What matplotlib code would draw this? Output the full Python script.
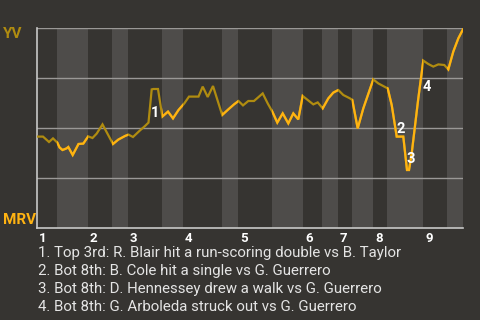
import numpy as np
import matplotlib
matplotlib.use('Agg')
import matplotlib.pyplot as plt
import matplotlib.transforms as mtransforms

plt.rcParams['font.family'] = ['Roboto', 'DejaVu Sans']

# game progress (0..426) and YV win expectancy (%)
progress = [0, 6, 12, 16, 20.3, 22.5, 25.5, 29.5, 31.3, 35.7, 41.5, 46.3, 51.2,
            55.5, 59.7, 65.5, 76, 81.3, 88, 91.5, 96, 103, 108, 111.5, 114.7,
            116.3, 121, 125.3, 131, 136, 141.5, 147.3, 152, 161.5, 165.7, 170.7,
            176, 185.2, 191.3, 197, 201.5, 206, 211.3, 217, 225.7, 230.7, 235.3,
            240.3, 245.7, 251.3, 256.3, 261.3, 265.7, 270.7, 276.3, 280.7, 285.7,
            291.3, 296.3, 301.3, 306.3, 313, 315.3, 320.7, 326.3, 336.3, 341.3,
            350.7, 354.7, 359.7, 366.3, 370, 372, 374.7, 381.3, 386.3, 391.3,
            396.3, 401.3, 407.3, 411.3, 416.3, 421.3, 426]
yv_we = [45.7, 45.7, 43, 44.8, 42.7, 40.3, 39, 39.8, 40.5, 36.5, 42, 42.2, 45.8,
         45, 47.2, 51.8, 42, 44.2, 46, 46.7, 45.5, 48.8, 51, 52.7, 69.3, 69.5,
         69.5, 55.7, 58.2, 54.8, 59, 62.3, 65.7, 65.7, 70.7, 65.5, 71, 56.5,
         59.3, 61.8, 63.5, 61.3, 63.5, 63.5, 67.3, 62.3, 58.2, 52.7, 57.3, 52.3,
         57.3, 54.3, 66, 64, 61.8, 62.8, 59.8, 64.8, 67.7, 69, 66.5, 64.8, 64,
         49.8, 59.8, 74.3, 72.3, 69.8, 61.5, 45.7, 45.7, 29, 29, 37.3, 64.8,
         83.7, 82, 80.7, 81.8, 81.5, 79.3, 88.2, 94.8, 99.3]

# half innings: start of top and bottom of each inning
innings = ['1', '2', '3', '4', '5', '6', '7', '8', '9']
top_start = [0, 51, 91, 146, 201, 266, 301, 336, 386]
bot_start = [20, 75, 125, 185, 235, 285, 315, 350, 410]
game_end = 426

events = ['1. Top 3rd: R. Blair hit a run-scoring double vs B. Taylor',
          '2. Bot 8th: B. Cole hit a single vs G. Guerrero',
          '3. Bot 8th: D. Hennessey drew a walk vs G. Guerrero',
          '4. Bot 8th: G. Arboleda struck out vs G. Guerrero']
event_x = [118.5, 364, 374, 389.5]
event_y = [57.5, 49.5, 34.3, 70.5]

bg = '#363431'
band = '#4e4c4a'
yv_col = '#b08c10'
mrv_col = '#ffb312'
grid_col = '#9a9896'

fig = plt.figure(figsize=(4.8, 3.2), dpi=100, facecolor=bg)
ax = fig.add_axes([37 / 480, 1 - 228 / 320, 426 / 480, 200 / 320])
ax.set_facecolor(bg)
ax.set_xlim(0, game_end)
ax.set_ylim(0, 100)

# bottom halves shaded lighter
ends = top_start[1:] + [game_end]
spans = []
for b, e in zip(bot_start, ends):
    spans.append(ax.axvspan(b, e, color=band, lw=0, zorder=0))

for g in [25, 50, 75, 100]:
    ax.axhline(g, color=grid_col, lw=1, zorder=1)

# line is dark gold in top halves, bright where MRV bats
ax.plot(progress, yv_we, color=yv_col, lw=1.6, zorder=3,
        solid_joinstyle='miter')
for sp in spans:
    ln, = ax.plot(progress, yv_we, color=mrv_col, lw=1.6, zorder=4,
                  solid_joinstyle='miter')
    ln.set_clip_path(sp)

for s in ['top', 'right']:
    ax.spines[s].set_visible(False)
for s in ['left', 'bottom']:
    ax.spines[s].set_color('#c8c8c8')
    ax.spines[s].set_linewidth(1.2)
ax.set_xticks([])
ax.set_yticks([])

trans = mtransforms.blended_transform_factory(ax.transData, ax.transAxes)
for lab, x in zip(innings, top_start):
    ax.text(x + 2, -0.022, lab, transform=trans, ha='left', va='top',
            color='white', fontsize=9.5, fontweight='bold')

for i, (x, y) in enumerate(zip(event_x, event_y)):
    ax.text(x, y, str(i + 1), ha='center', va='center', color='white',
            fontsize=10.5, fontweight='bold', zorder=5)

fig.text(3 / 480, 1 - 34 / 320, 'YV', color=yv_col, fontsize=11,
         fontweight='bold', ha='left', va='center')
fig.text(3 / 480, 1 - 220 / 320, 'MRV', color=mrv_col, fontsize=11,
         fontweight='bold', ha='left', va='center')

for i, line in enumerate(events):
    fig.text(38 / 480, 1 - (253 + 18 * i) / 320, line, color='#e4e4e4',
             fontsize=10.8, ha='left', va='center')

fig.savefig('out.png', dpi=100, facecolor=bg)
